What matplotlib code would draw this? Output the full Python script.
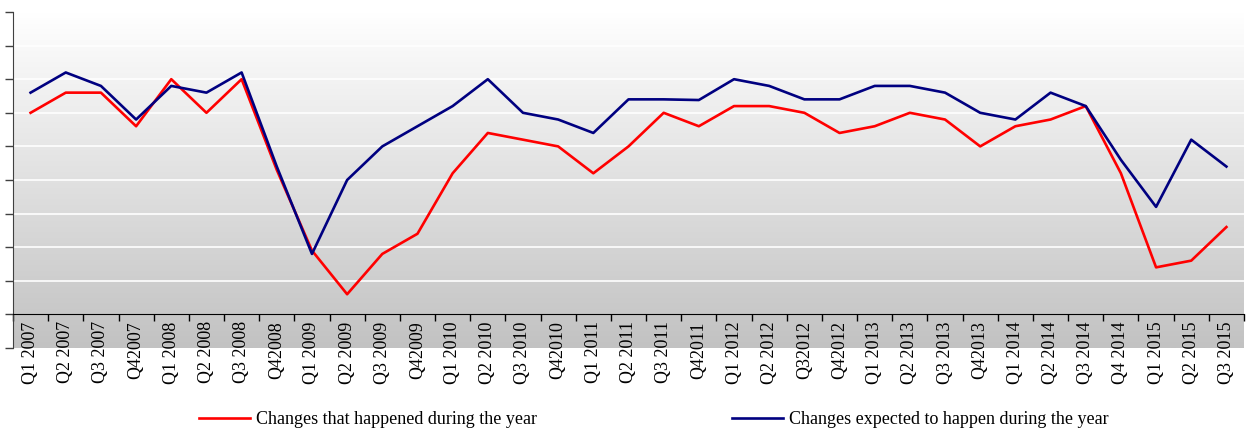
import numpy as np
import matplotlib
matplotlib.use('Agg')
import matplotlib.pyplot as plt
from matplotlib.colors import LinearSegmentedColormap

plt.rcParams['font.family'] = ['Liberation Serif', 'DejaVu Serif']

quarters = ['Q1 2007', 'Q2 2007', 'Q3 2007', 'Q42007',
            'Q1 2008', 'Q2 2008', 'Q3 2008', 'Q42008',
            'Q1 2009', 'Q2 2009', 'Q3 2009', 'Q42009',
            'Q1 2010', 'Q2 2010', 'Q3 2010', 'Q42010',
            'Q1 2011', 'Q2 2011', 'Q3 2011', 'Q42011',
            'Q1 2012', 'Q2 2012', 'Q32012', 'Q42012',
            'Q1 2013', 'Q2 2013', 'Q3 2013', 'Q42013',
            'Q1 2014', 'Q2 2014', 'Q3 2014', 'Q4 2014',
            'Q1 2015', 'Q2 2015', 'Q3 2015']

happened = [60, 66, 66, 56, 70, 60, 70, 43,
            19, 6, 18, 24, 42, 54, 52, 50,
            42, 50, 60, 56, 62, 62, 60, 54,
            56, 60, 58, 50, 56, 58, 62, 42,
            14, 16, 26]

expected = [66, 72, 68, 58, 68, 66, 72, 44,
            18, 40, 50, 56, 62, 70, 60, 58,
            54, 64, 64, 63.8, 70, 68, 64, 64,
            68, 68, 66, 60, 58, 66, 62, 46,
            32, 52, 44]

label_happened = 'Changes that happened during the year'
label_expected = 'Changes expected to happen during the year'

fig = plt.figure(figsize=(12.46, 4.32), dpi=100)
ax = fig.add_axes([13 / 1246, (432 - 348) / 432, 1231 / 1246, 336 / 432])

x = np.arange(len(quarters))
ymin, ymax = -10, 90

# vertical grey gradient behind the plot area
grad = np.linspace(1, 0, 256).reshape(-1, 1)
cmap = LinearSegmentedColormap.from_list('bg', ['#c2c2c2', '#ffffff'])
ax.imshow(grad, cmap=cmap, aspect='auto', origin='upper',
          extent=(-0.5, len(quarters) - 0.5, ymin, ymax), zorder=0)

for g in range(10, 90, 10):
    ax.axhline(g, color='white', lw=1.2, zorder=1)

ax.plot(x, happened, color='#ff0000', lw=1.9, label=label_happened, zorder=3)
ax.plot(x, expected, color='#000080', lw=1.9, label=label_expected, zorder=3)

ax.set_xlim(-0.5, len(quarters) - 0.5)
ax.set_ylim(ymin, ymax)

ax.spines['top'].set_visible(False)
ax.spines['right'].set_visible(False)
ax.spines['bottom'].set_position(('data', 0))
ax.spines['bottom'].set_zorder(4)
ax.spines['left'].set_color('#404040')

ax.set_yticks(np.arange(ymin, ymax + 1, 10))
ax.set_yticklabels([])
ax.tick_params(axis='y', direction='out', length=6, width=1, color='#404040')

# labels at category centres, tick marks at category boundaries
ax.set_xticks(x)
ax.set_xticklabels(quarters, rotation=90, fontsize=13)
ax.set_xticks(np.arange(-0.5, len(quarters)), minor=True)
ax.tick_params(axis='x', which='major', length=0, pad=5)
ax.tick_params(axis='x', which='minor', direction='out', length=5, width=1)

fig.legend(loc='center', bbox_to_anchor=(0.525, (432 - 420) / 432), ncol=2,
           frameon=False, fontsize=13, handlelength=2.8, handletextpad=0.35,
           columnspacing=10.8, borderpad=0, borderaxespad=0)

fig.savefig('out.png', dpi=100)
